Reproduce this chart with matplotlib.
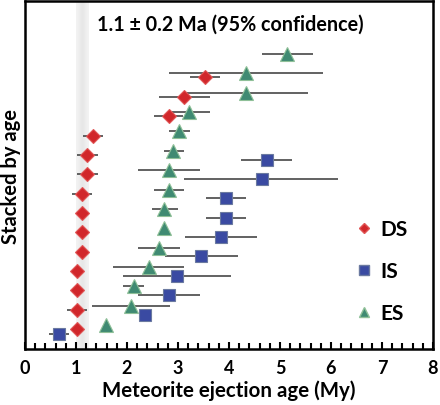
import numpy as np
import matplotlib
matplotlib.use('Agg')
import matplotlib.pyplot as plt
from matplotlib.lines import Line2D

plt.rcParams['font.family'] = ['Lato', 'DejaVu Sans']
plt.rcParams['font.weight'] = 'bold'

# ejection ages (My), bottom of the stack to top, with 95% ranges
es_age = np.array([1.59, 2.08, 2.14, 2.43, 2.63, 2.73, 2.73, 2.82, 2.82, 2.90, 3.02, 3.22, 4.33, 4.33, 5.14])
es_lo = np.array([1.59, 1.31, 1.92, 1.73, 2.22, 2.66, 2.49, 2.53, 2.22, 2.73, 2.82, 2.88, 3.17, 2.82, 4.65])
es_hi = np.array([1.59, 2.84, 2.33, 3.12, 3.03, 2.80, 3.00, 3.12, 3.43, 3.12, 3.24, 3.63, 5.55, 5.84, 5.65])

ds_age = np.array([1.02, 1.02, 1.02, 1.02, 1.12, 1.12, 1.12, 1.12, 1.22, 1.22, 1.33, 2.82, 3.12, 3.53])
ds_lo = np.array([1.02, 0.82, 1.02, 1.02, 1.12, 1.12, 1.12, 0.92, 1.02, 1.02, 1.13, 2.53, 2.63, 3.24])
ds_hi = np.array([1.02, 1.22, 1.02, 1.02, 1.12, 1.12, 1.12, 1.32, 1.43, 1.43, 1.53, 3.10, 3.63, 3.82])

is_age = np.array([0.67, 2.35, 2.83, 2.98, 3.46, 3.84, 3.94, 3.94, 4.65, 4.74])
is_lo = np.array([0.47, 2.35, 2.22, 1.92, 2.75, 3.13, 3.55, 3.55, 3.12, 4.24])
is_hi = np.array([0.86, 2.35, 3.43, 4.04, 4.18, 4.55, 4.33, 4.33, 6.14, 5.24])

band_lo, band_hi = 1.0, 1.25
note = '1.1 \u00b1 0.2 Ma (95% confidence)'

fig = plt.figure(figsize=(4.4, 4.06), dpi=100)
ax = fig.add_axes([25 / 440, 56 / 406, 408 / 440, 348 / 406])

ylo, yhi = -1.24, 16.74

# shaded band with a soft gradient
grad = np.abs(np.linspace(-1, 1, 50))[None, :]
ax.imshow(grad, extent=[band_lo, band_hi, ylo, yhi], aspect='auto', cmap='Greys_r',
          vmin=-10.25, vmax=2.25, zorder=0, interpolation='bilinear')

series = [
    (es_age, es_lo, es_hi, 0.0, '^', '#3f8a72', '#8fc098', 9.5),
    (ds_age, ds_lo, ds_hi, -0.21, 'D', '#d1272b', '#e05555', 7.0),
    (is_age, is_lo, is_hi, -0.46, 's', '#3a4aa2', '#6b7aa0', 8.8),
]
for age, lo, hi, off, mk, fc, ec, ms in series:
    y = np.arange(len(age)) + off
    ax.errorbar(age, y, xerr=[age - lo, hi - age], fmt='none', ecolor='#555555',
                elinewidth=1.3, capsize=0, zorder=2)
    ax.plot(age, y, ls='none', marker=mk, markersize=ms, markerfacecolor=fc,
            markeredgecolor=ec, markeredgewidth=0.8, zorder=3)

ax.text(1.41, 15.55, note, fontsize=14.2, fontweight='bold', va='center', ha='left')

ax.set_xlim(0, 8)
ax.set_ylim(ylo, yhi)
ax.set_xticks(range(0, 9))
ax.set_xticks(np.arange(0, 8.01, 0.2), minor=True)
ax.set_yticks([])
ax.tick_params(axis='x', which='both', direction='in', top=False, width=1.5,
               labelsize=13, pad=7)
ax.tick_params(axis='x', which='major', length=5)
ax.tick_params(axis='x', which='minor', length=4)
for s in ax.spines.values():
    s.set_linewidth(1.8)

ax.set_xlabel('Meteorite ejection age (My)', fontsize=14.8, fontweight='bold', labelpad=3)
ax.set_ylabel('Stacked by age', fontsize=14.5, fontweight='bold', labelpad=3)

handles = [
    Line2D([], [], ls='none', marker='D', markersize=5.5, markerfacecolor='#d1272b', markeredgecolor='#e05555'),
    Line2D([], [], ls='none', marker='s', markersize=7, markerfacecolor='#3a4aa2', markeredgecolor='#6b7aa0'),
    Line2D([], [], ls='none', marker='^', markersize=7.5, markerfacecolor='#3f8a72', markeredgecolor='#8fc098'),
]
ax.legend(handles, ['DS', 'IS', 'ES'], loc='center left', bbox_to_anchor=(0.785, 0.224),
          frameon=False, prop={'weight': 'bold', 'size': 15}, labelspacing=1.05,
          handlelength=0.8, handletextpad=0.4, borderpad=0)

fig.savefig('out.png', dpi=100)
